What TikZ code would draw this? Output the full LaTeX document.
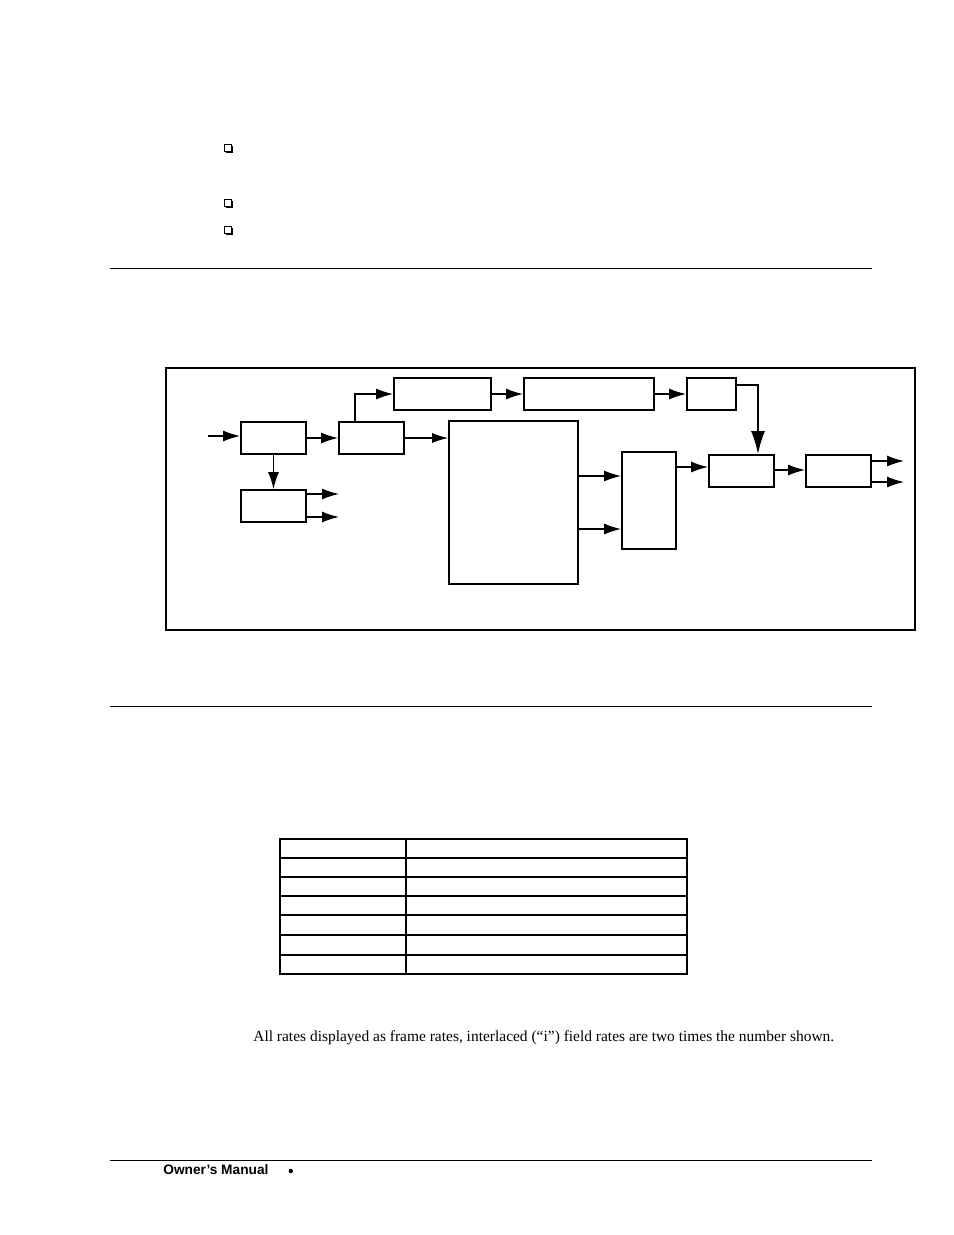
\documentclass[tikz,border=0pt]{standalone}
\usepackage{fontspec}
\setmainfont{Liberation Serif}
\newfontfamily\footfont{Liberation Sans}
\usetikzlibrary{arrows.meta,fit}
\tikzset{
  blk/.style={draw, line width=1pt, inner sep=0pt},
  sig/.style={line width=0.8pt, -{Latex[length=0.34cm,width=0.22cm]}},
  rule/.style={line width=0.5pt},
  bul/.style={draw, line width=0.5pt, fill=white}
}
\begin{document}
\begin{tikzpicture}[x=0.02cm,y=-0.02cm]
% page
\useasboundingbox (0,0) rectangle (954,1235);

% Bullets
\foreach \yy in {148,203,230}{
  \fill (226,\yy-2) rectangle (233,\yy+5);
  \draw[bul] (224,\yy-4) rectangle (231,\yy+3);
}

% Rules
\draw[rule] (110,268) -- (872,268);
\draw[rule] (110,706) -- (872,706);
\draw[rule] (110,1160) -- (872,1160);

% Frame
\draw[line width=0.6pt] (166,368) rectangle (915,630);

% Blocks
\node[blk, fit={(241,422)(306,454)}] (inbox) {};
\node[blk, fit={(241,490)(306,522)}] (outA) {};
\node[blk, fit={(339,422)(404,454)}] (split) {};
\node[blk, fit={(394,378)(491,410)}] (proc1) {};
\node[blk, fit={(524,378)(654,410)}] (proc2) {};
\node[blk, fit={(687,378)(736,410)}] (proc3) {};
\node[blk, fit={(449,421)(578,584)}] (core) {};
\node[blk, fit={(622,452)(676,549)}] (mux) {};
\node[blk, fit={(709,455)(774,487)}] (mix) {};
\node[blk, fit={(806,455)(871,487)}] (outB) {};

\coordinate (src) at (208,436);
\coordinate (oa1) at (339,494);
\coordinate (oa2) at (339,517);
\coordinate (ob1) at (904,461);
\coordinate (ob2) at (904,482);

% Connectors
\draw[sig] (src) -- (inbox.west |- src);
\draw[sig] (inbox.east) -- (split.west);
\draw[sig] (inbox.south) -- (outA.north);
\draw[sig] (outA.east |- oa1) -- (oa1);
\draw[sig] (outA.east |- oa2) -- (oa2);
\draw[line width=0.6pt, -{Latex[length=0.32cm,width=0.2cm]}] (split.east) -- (core.west |- split.east);
\draw[sig] (355,422) |- (proc1.west);
\draw[sig] (proc1.east) -- (proc2.west);
\draw[sig] (proc2.east) -- (proc3.west);
\draw[line width=1pt, -{Latex[length=0.46cm,width=0.28cm]}] (proc3.east |- 0,385) -| (mix.north -| 758,0);
\draw[sig] (core.east |- 0,476) -- (mux.west |- 0,476);
\draw[sig] (core.east |- 0,529) -- (mux.west |- 0,529);
\draw[sig] (mux.east |- 0,467) -- (mix.west |- 0,467);
\draw[sig] (mix.east |- 0,470) -- (outB.west |- 0,470);
\draw[sig] (outB.east |- ob1) -- (ob1);
\draw[sig] (outB.east |- ob2) -- (ob2);

% Table
\draw[line width=0.7pt] (280,839) rectangle (687,974);
\draw[line width=0.7pt] (406,839) -- (406,974);
\draw[line width=1.4pt] (280,858) -- (687,858);
\foreach \yy in {877,896,915}{ \draw[line width=0.7pt] (280,\yy) -- (687,\yy); }
\draw[line width=1.4pt] (280,935) -- (687,935);
\draw[line width=1.4pt] (280,955) -- (687,955);

% Text
\node[anchor=west, inner sep=0, font=\fontsize{8.8}{10}\selectfont] (note) at (253,1038)
  {All rates displayed as frame rates, interlaced (“i”) field rates are two times the number shown.};
\node[anchor=west, inner sep=0, font=\footfont\bfseries\fontsize{7.8}{9}\selectfont] (foot) at (163,1170)
  {Owner’s Manual};
\fill (foot.east) ++(22,1) circle (2.2);
\end{tikzpicture}
\end{document}
